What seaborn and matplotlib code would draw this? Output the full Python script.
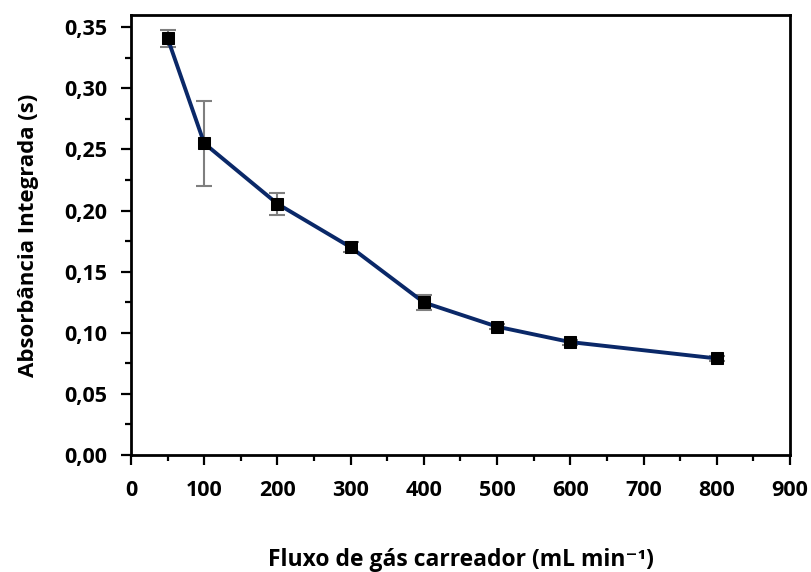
import matplotlib
matplotlib.use("Agg")
import matplotlib.pyplot as plt
from matplotlib.ticker import MultipleLocator, FuncFormatter
import seaborn as sns
import pandas as pd

flow = [50, 100, 200, 300, 400, 500, 600, 800]
absorb = [0.341, 0.255, 0.2055, 0.170, 0.1248, 0.105, 0.0924, 0.079]
err = [0.007, 0.035, 0.0088, 0.004, 0.0065, 0.002, 0.002, 0.002]

df = pd.DataFrame({"flow": flow, "abs": absorb, "err": err})

sns.set_theme(style="ticks")
plt.rcParams['font.family'] = ['Open Sans', 'DejaVu Sans']
plt.rcParams['font.weight'] = 'bold'
plt.rcParams['text.color'] = 'black'
plt.rcParams['axes.labelcolor'] = 'black'

fig = plt.figure(figsize=(8.12, 5.72), dpi=100)
ax = fig.add_axes([131/812, 1-455/572, (790-131)/812, (455-15)/572])

ax.errorbar(df["flow"], df["abs"], yerr=df["err"], fmt='none', ecolor='#7f7f7f',
            elinewidth=1.5, capsize=6, capthick=1.5, zorder=1)
sns.lineplot(data=df, x="flow", y="abs", ax=ax, color='#0a2868', linewidth=2.8,
             marker='s', markersize=9, markerfacecolor='black', markeredgecolor='black',
             zorder=2)

ax.set_xlim(0, 900)
ax.set_ylim(0, 0.36)
ax.xaxis.set_major_locator(MultipleLocator(100))
ax.xaxis.set_minor_locator(MultipleLocator(50))
ax.set_yticks([0, 0.05, 0.10, 0.15, 0.20, 0.25, 0.30, 0.35])
ax.yaxis.set_minor_locator(MultipleLocator(0.025))
ax.yaxis.set_major_formatter(FuncFormatter(lambda v, p: f"{v:.2f}".replace('.', ',')))

for s in ax.spines.values():
    s.set_visible(True)
    s.set_linewidth(2)
    s.set_color('black')

ax.tick_params(which='major', direction='out', length=7, width=1.6, labelsize=15.5,
               colors='black')
ax.tick_params(which='minor', direction='out', length=4.5, width=1.6, colors='black')
ax.tick_params(axis='x', which='major', pad=11)
ax.tick_params(axis='y', which='major', pad=10)
for lab in ax.get_xticklabels() + ax.get_yticklabels():
    lab.set_fontweight('bold')

ax.set_xlabel("Fluxo de gás carreador (mL min⁻¹)", fontsize=16.5,
              fontweight='bold', labelpad=34, color='black')
ax.set_ylabel("Absorbância Integrada (s)", fontsize=16, fontweight='bold',
              labelpad=18, color='black')

fig.savefig("out.png", dpi=100)
